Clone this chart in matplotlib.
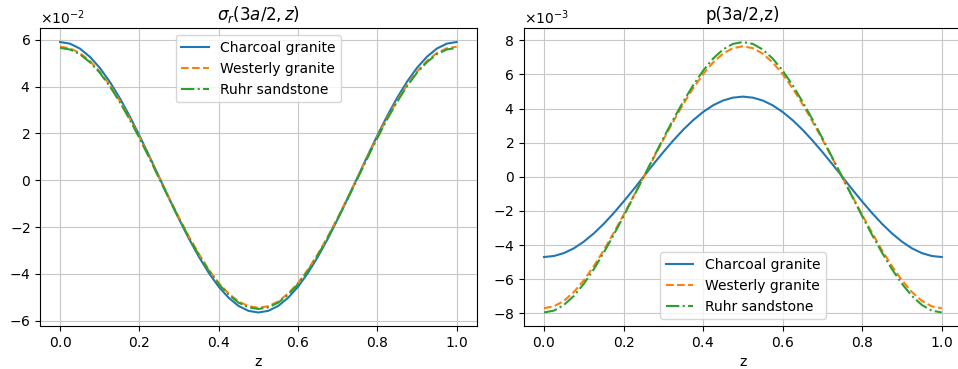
import numpy as np
import matplotlib
matplotlib.use("Agg")
import matplotlib.pyplot as plt

plt.rcParams['axes.formatter.use_mathtext'] = True

# z positions (41 samples, step 0.025)
z = np.linspace(0, 1, 41)

labels = ['Charcoal granite', 'Westerly granite', 'Ruhr sandstone']

sig_charcoal = [5.90, 5.83, 5.62, 5.27, 4.80, 4.21, 3.52, 2.75, 1.91, 1.03, 0.12,
                -0.78, -1.66, -2.50, -3.27, -3.96, -4.55, -5.02, -5.37, -5.58, -5.65,
                -5.58, -5.37, -5.02, -4.55, -3.96, -3.27, -2.50, -1.66, -0.78, 0.12,
                1.03, 1.91, 2.75, 3.52, 4.21, 4.80, 5.27, 5.62, 5.83, 5.90]
sig_westerly = [5.70, 5.63, 5.43, 5.09, 4.64, 4.07, 3.40, 2.66, 1.85, 1.00, 0.12,
                -0.75, -1.60, -2.41, -3.15, -3.82, -4.39, -4.84, -5.18, -5.38, -5.45,
                -5.38, -5.18, -4.84, -4.39, -3.82, -3.15, -2.41, -1.60, -0.75, 0.12,
                1.00, 1.85, 2.66, 3.40, 4.07, 4.64, 5.09, 5.43, 5.63, 5.70]
sig_ruhr = [5.65, 5.58, 5.38, 5.04, 4.59, 4.02, 3.35, 2.61, 1.80, 0.95, 0.07,
            -0.80, -1.65, -2.46, -3.20, -3.87, -4.44, -4.89, -5.23, -5.43, -5.50,
            -5.43, -5.23, -4.89, -4.44, -3.87, -3.20, -2.46, -1.65, -0.80, 0.07,
            0.95, 1.80, 2.61, 3.35, 4.02, 4.59, 5.04, 5.38, 5.58, 5.65]

p_charcoal = [-4.70, -4.64, -4.47, -4.19, -3.80, -3.32, -2.76, -2.13, -1.45, -0.74, 0.00,
              0.74, 1.45, 2.13, 2.76, 3.32, 3.80, 4.19, 4.47, 4.64, 4.70,
              4.64, 4.47, 4.19, 3.80, 3.32, 2.76, 2.13, 1.45, 0.74, 0.00,
              -0.74, -1.45, -2.13, -2.76, -3.32, -3.80, -4.19, -4.47, -4.64, -4.70]
p_westerly = [-7.70, -7.59, -7.27, -6.75, -6.07, -5.24, -4.31, -3.29, -2.23, -1.13, -0.03,
              1.08, 2.18, 3.24, 4.26, 5.19, 6.02, 6.70, 7.22, 7.54, 7.65,
              7.54, 7.22, 6.70, 6.02, 5.19, 4.26, 3.24, 2.18, 1.08, -0.03,
              -1.13, -2.23, -3.29, -4.31, -5.24, -6.07, -6.75, -7.27, -7.59, -7.70]
p_ruhr = [-7.95, -7.84, -7.51, -6.98, -6.27, -5.42, -4.45, -3.41, -2.31, -1.17, -0.03,
          1.12, 2.26, 3.36, 4.40, 5.37, 6.22, 6.93, 7.46, 7.79, 7.90,
          7.79, 7.46, 6.93, 6.22, 5.37, 4.40, 3.36, 2.26, 1.12, -0.03,
          -1.17, -2.31, -3.41, -4.45, -5.42, -6.27, -6.98, -7.51, -7.84, -7.95]

fig = plt.figure(figsize=(9.58, 3.69), dpi=100)
ax1 = fig.add_axes([0.042, 0.1165, 0.4554, 0.8063])
ax2 = fig.add_axes([0.5471, 0.1165, 0.4567, 0.8063])

styles = ['-', '--', '-.']

for ys, ls, lab in zip([sig_charcoal, sig_westerly, sig_ruhr], styles, labels):
    ax1.plot(z, np.array(ys) * 1e-2, ls, label=lab)
ax1.set_title(r'$\sigma_r(3a/2,z)$')
ax1.set_xlabel('z')
ax1.grid(True, color='#c8c8c8')
ax1.legend(loc='upper center')

for ys, ls, lab in zip([p_charcoal, p_westerly, p_ruhr], styles, labels):
    ax2.plot(z, np.array(ys) * 1e-3, ls, label=lab)
ax2.set_title('p(3a/2,z)')
ax2.set_xlabel('z')
ax2.grid(True, color='#c8c8c8')
ax2.legend(loc='lower center')

for ax in (ax1, ax2):
    ax.ticklabel_format(axis='y', style='sci', scilimits=(0, 0), useMathText=True)

fig.savefig('out.png', dpi=100)
